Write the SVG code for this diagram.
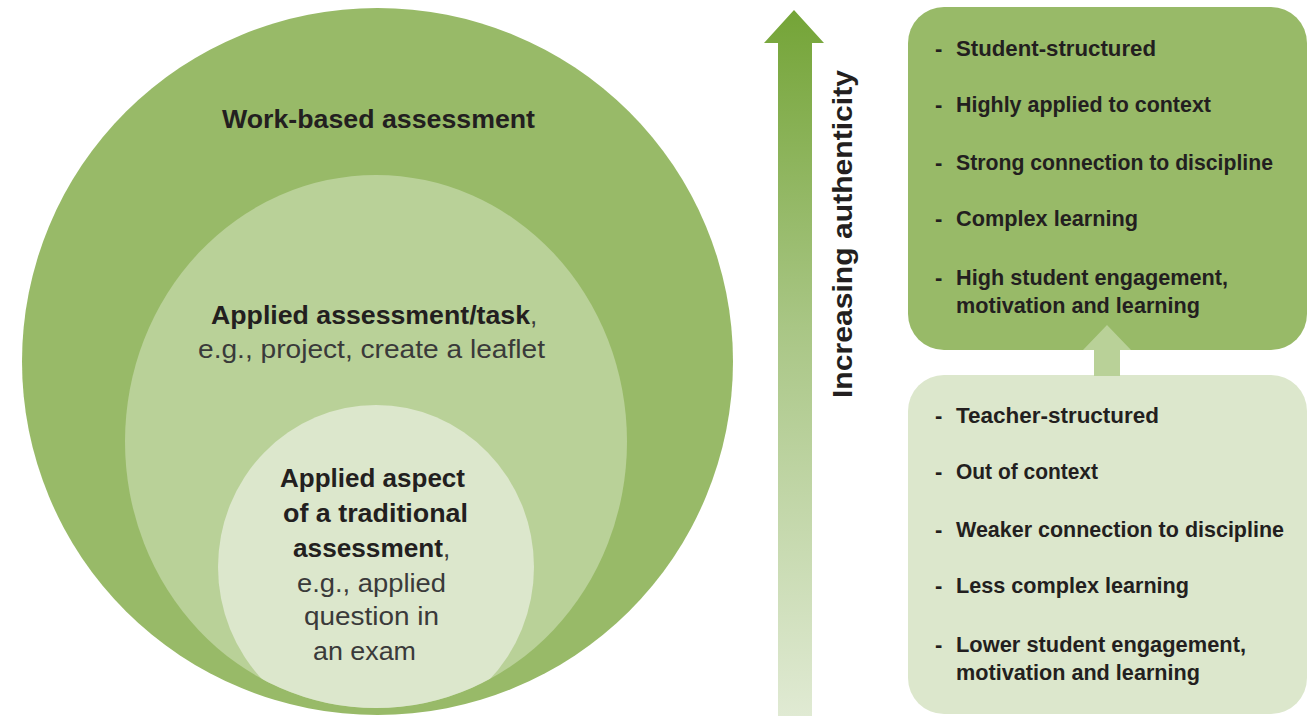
<svg xmlns="http://www.w3.org/2000/svg" width="1314" height="716" viewBox="0 0 1314 716">
  <defs>
    <style>
      .b { font-family: "Liberation Sans", Arial, sans-serif; font-weight: bold; fill: #231F20; }
      .r { font-family: "Liberation Sans", Arial, sans-serif; font-weight: normal; fill: #3A3A3A; }
      .ct { font-size: 26px; }
      .bt { font-size: 22px; }
      .dark { fill: #98BA68; }
      .mid { fill: #B9D198; }
      .light { fill: #DCE7CC; }
    </style>
    <linearGradient id="authGrad" gradientUnits="userSpaceOnUse" x1="0" y1="10" x2="0" y2="716">
      <stop offset="0" stop-color="#74A437"/>
      <stop offset="0.45" stop-color="#A9C685"/>
      <stop offset="1" stop-color="#E0EAD3"/>
    </linearGradient>
    <clipPath id="clipMiddle">
      <ellipse cx="376" cy="441.5" rx="251" ry="266.5"/>
    </clipPath>
  </defs>

  <g id="node-work-based">
    <ellipse class="dark" cx="377.5" cy="361.5" rx="355.5" ry="353.5"/>
    <text class="b ct" x="222" y="128" textLength="313" lengthAdjust="spacingAndGlyphs">Work-based assessment</text>
  </g>

  <g id="node-applied-task">
    <ellipse class="mid" cx="376" cy="441.5" rx="251" ry="266.5"/>
    <text class="ct" y="324"><tspan class="b" x="211" textLength="319" lengthAdjust="spacingAndGlyphs">Applied assessment/task</tspan><tspan class="r" x="530">,</tspan></text>
    <text class="r ct" x="198" y="358" textLength="347" lengthAdjust="spacingAndGlyphs">e.g., project, create a leaflet</text>
  </g>

  <g id="node-applied-aspect">
    <ellipse class="light" cx="376" cy="567" rx="158" ry="162" clip-path="url(#clipMiddle)"/>
    <text class="b ct" x="280" y="487" textLength="185" lengthAdjust="spacingAndGlyphs">Applied aspect</text>
    <text class="b ct" x="283" y="522" textLength="185" lengthAdjust="spacingAndGlyphs">of a traditional</text>
    <text class="ct" y="557"><tspan class="b" x="293" textLength="150" lengthAdjust="spacingAndGlyphs">assessment</tspan><tspan class="r" x="443">,</tspan></text>
    <text class="r ct" x="297" y="592" textLength="149" lengthAdjust="spacingAndGlyphs">e.g., applied</text>
    <text class="r ct" x="304" y="625" textLength="135" lengthAdjust="spacingAndGlyphs">question in</text>
    <text class="r ct" x="313" y="660" textLength="103" lengthAdjust="spacingAndGlyphs">an exam</text>
  </g>

  <g id="node-high-authenticity">
    <rect class="dark" x="908" y="7" width="399" height="343" rx="36" ry="36"/>
    <text class="b bt" x="935" y="56">-</text>
    <text class="b bt" x="956" y="56" textLength="200" lengthAdjust="spacingAndGlyphs">Student-structured</text>
    <text class="b bt" x="935" y="112">-</text>
    <text class="b bt" x="956" y="112" textLength="255" lengthAdjust="spacingAndGlyphs">Highly applied to context</text>
    <text class="b bt" x="935" y="170">-</text>
    <text class="b bt" x="956" y="170" textLength="317" lengthAdjust="spacingAndGlyphs">Strong connection to discipline</text>
    <text class="b bt" x="935" y="226">-</text>
    <text class="b bt" x="956" y="226" textLength="182" lengthAdjust="spacingAndGlyphs">Complex learning</text>
    <text class="b bt" x="935" y="285">-</text>
    <text class="b bt" x="956" y="285" textLength="272" lengthAdjust="spacingAndGlyphs">High student engagement,</text>
    <text class="b bt" x="956" y="313" textLength="244" lengthAdjust="spacingAndGlyphs">motivation and learning</text>
  </g>

  <g id="node-low-authenticity">
    <rect class="light" x="908" y="375" width="399" height="339" rx="36" ry="36"/>
    <text class="b bt" x="935" y="423">-</text>
    <text class="b bt" x="956" y="423" textLength="203" lengthAdjust="spacingAndGlyphs">Teacher-structured</text>
    <text class="b bt" x="935" y="479">-</text>
    <text class="b bt" x="956" y="479" textLength="142" lengthAdjust="spacingAndGlyphs">Out of context</text>
    <text class="b bt" x="935" y="537">-</text>
    <text class="b bt" x="956" y="537" textLength="328" lengthAdjust="spacingAndGlyphs">Weaker connection to discipline</text>
    <text class="b bt" x="935" y="593">-</text>
    <text class="b bt" x="956" y="593" textLength="233" lengthAdjust="spacingAndGlyphs">Less complex learning</text>
    <text class="b bt" x="935" y="652">-</text>
    <text class="b bt" x="956" y="652" textLength="290" lengthAdjust="spacingAndGlyphs">Lower student engagement,</text>
    <text class="b bt" x="956" y="680" textLength="244" lengthAdjust="spacingAndGlyphs">motivation and learning</text>
  </g>

  <g id="connectors">
    <polygon id="arrow-authenticity" fill="url(#authGrad)" points="794,10 824,43 812,43 812,716 778,716 778,43 764,43"/>
    <text class="b" font-size="28" transform="translate(852,398) rotate(-90)" textLength="328" lengthAdjust="spacingAndGlyphs">Increasing authenticity</text>
    <polygon id="arrow-low-to-high" class="mid" points="1107,325 1131,350 1120,350 1120,376 1094,376 1094,350 1083,350"/>
  </g>
</svg>
